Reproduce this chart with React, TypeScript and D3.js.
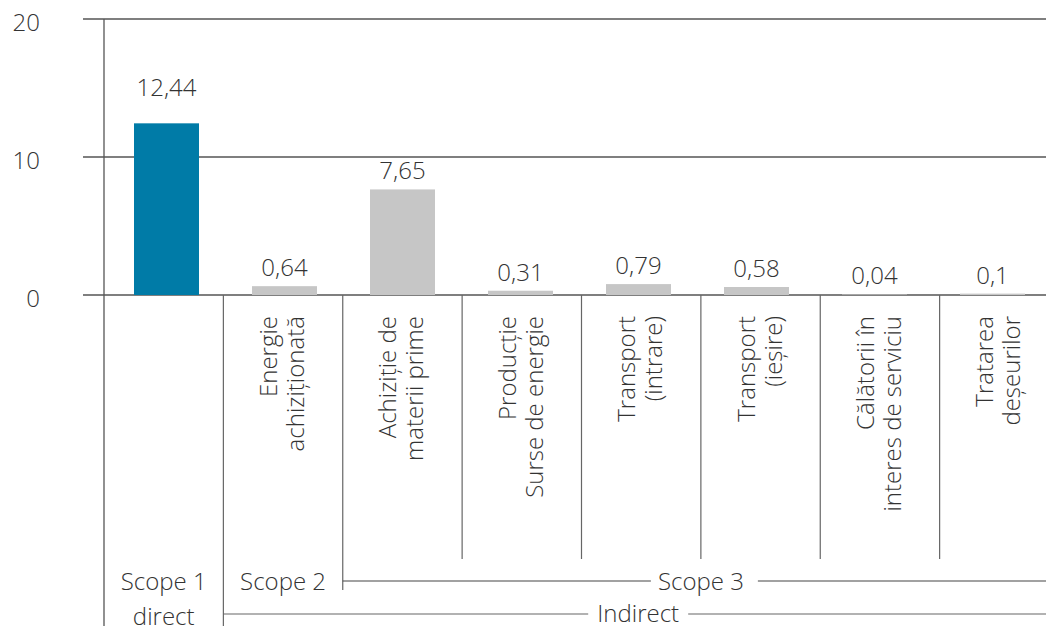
import React from "react";
import * as d3 from "d3";

const categories = [
  "Scope 1 direct",
  "Energie achiziționată",
  "Achiziție de materii prime",
  "Producție Surse de energie",
  "Transport (intrare)",
  "Transport (ieșire)",
  "Călătorii în interes de serviciu",
  "Tratarea deșeurilor",
];

const categoryLines = [
  [],
  ["Energie", "achiziționată"],
  ["Achiziție de", "materii prime"],
  ["Producție", "Surse de energie"],
  ["Transport", "(intrare)"],
  ["Transport", "(ieșire)"],
  ["Călătorii în", "interes de serviciu"],
  ["Tratarea", "deșeurilor"],
];

const values = [12.44, 0.64, 7.65, 0.31, 0.79, 0.58, 0.04, 0.1];

const yTicks = [0, 10, 20];

const W = 1046;
const H = 626;
const FONT = "'Open Sans', sans-serif";
const TEXT = "#333";
const LINE = "#555";

const fmt = (v: number) => String(v).replace(".", ",");

const App: React.FC = () => {
  // category cells (separators, labels)
  const x = d3.scaleBand<string>().domain(categories).range([104, 1059]).padding(0);
  // bar slots are a little narrower than the cells in the original
  const xb = d3.scaleBand<string>().domain(categories).range([107.5, 1051.5]).padding(0);
  const y = d3.scaleLinear().domain([0, 20]).range([295, 19]);
  const bw = 65;
  const cx = (i: number) => (x(categories[i]) as number) + x.bandwidth() / 2;
  const bx = (i: number) => (xb(categories[i]) as number) + xb.bandwidth() / 2;
  const left = (i: number) => x(categories[i]) as number;

  const scope3Center = (left(2) + 1059) / 2;
  const indirectCenter = (left(1) + 1059) / 2;

  return (
    <svg
      width={W}
      height={H}
      style={{ position: "absolute", left: 0, top: 0, background: "#fff" }}
      fontFamily={FONT}
      fontWeight={300}
    >
      {yTicks.map((t) => (
        <g key={t}>
          <line x1={83} x2={W} y1={y(t)} y2={y(t)} stroke={LINE} strokeWidth={1.3} />
          <text x={40} y={y(t) + 12} textAnchor="end" fontSize={24} fill={TEXT}>
            {t}
          </text>
        </g>
      ))}

      <line x1={104} x2={104} y1={y(20)} y2={H} stroke={LINE} strokeWidth={1.3} />

      {categories.slice(1).map((c, k) => {
        const i = k + 1;
        const y2 = i === 1 ? H : i === 2 ? 590 : 559;
        return (
          <line key={c} x1={left(i)} x2={left(i)} y1={y(0)} y2={y2} stroke="#666" strokeWidth={1.2} />
        );
      })}

      {values.map((v, i) => (
        <rect
          key={categories[i]}
          x={bx(i) - bw / 2}
          y={y(v)}
          width={bw}
          height={y(0) - y(v)}
          fill={i === 0 ? "#007ba7" : "#c6c6c6"}
        />
      ))}

      {values.map((v, i) => (
        <text
          key={categories[i]}
          x={bx(i)}
          y={y(v) - (i === 0 ? 27 : 10)}
          textAnchor="middle"
          fontSize={24}
          fill={TEXT}
        >
          {fmt(v)}
        </text>
      ))}

      {categoryLines.map((lines, i) =>
        lines.length ? (
          <g key={categories[i]} transform={`translate(${cx(i)},316) rotate(-90)`}>
            {lines.map((l, j) => (
              <text key={l} x={0} y={j === 0 ? -6 : 21} textAnchor="end" fontSize={24} fill={TEXT}>
                {l}
              </text>
            ))}
          </g>
        ) : null
      )}

      <text x={cx(0)} y={590} textAnchor="middle" fontSize={24} fill={TEXT}>
        Scope 1
      </text>
      <text x={cx(0)} y={625} textAnchor="middle" fontSize={24} fill={TEXT}>
        direct
      </text>
      <text x={cx(1)} y={590} textAnchor="middle" fontSize={24} fill={TEXT}>
        Scope 2
      </text>

      <line x1={left(2)} x2={scope3Center - 50} y1={581} y2={581} stroke="#444" strokeWidth={1.2} />
      <line x1={scope3Center + 57} x2={W} y1={581} y2={581} stroke="#444" strokeWidth={1.2} />
      <text x={scope3Center} y={590} textAnchor="middle" fontSize={24} fill={TEXT}>
        Scope 3
      </text>

      <line x1={left(1)} x2={indirectCenter - 53} y1={614} y2={614} stroke="#666" strokeWidth={1.2} />
      <line x1={indirectCenter + 47} x2={W} y1={614} y2={614} stroke="#666" strokeWidth={1.2} />
      <text x={indirectCenter - 3} y={622} textAnchor="middle" fontSize={24} fill={TEXT}>
        Indirect
      </text>
    </svg>
  );
};

export default App;
